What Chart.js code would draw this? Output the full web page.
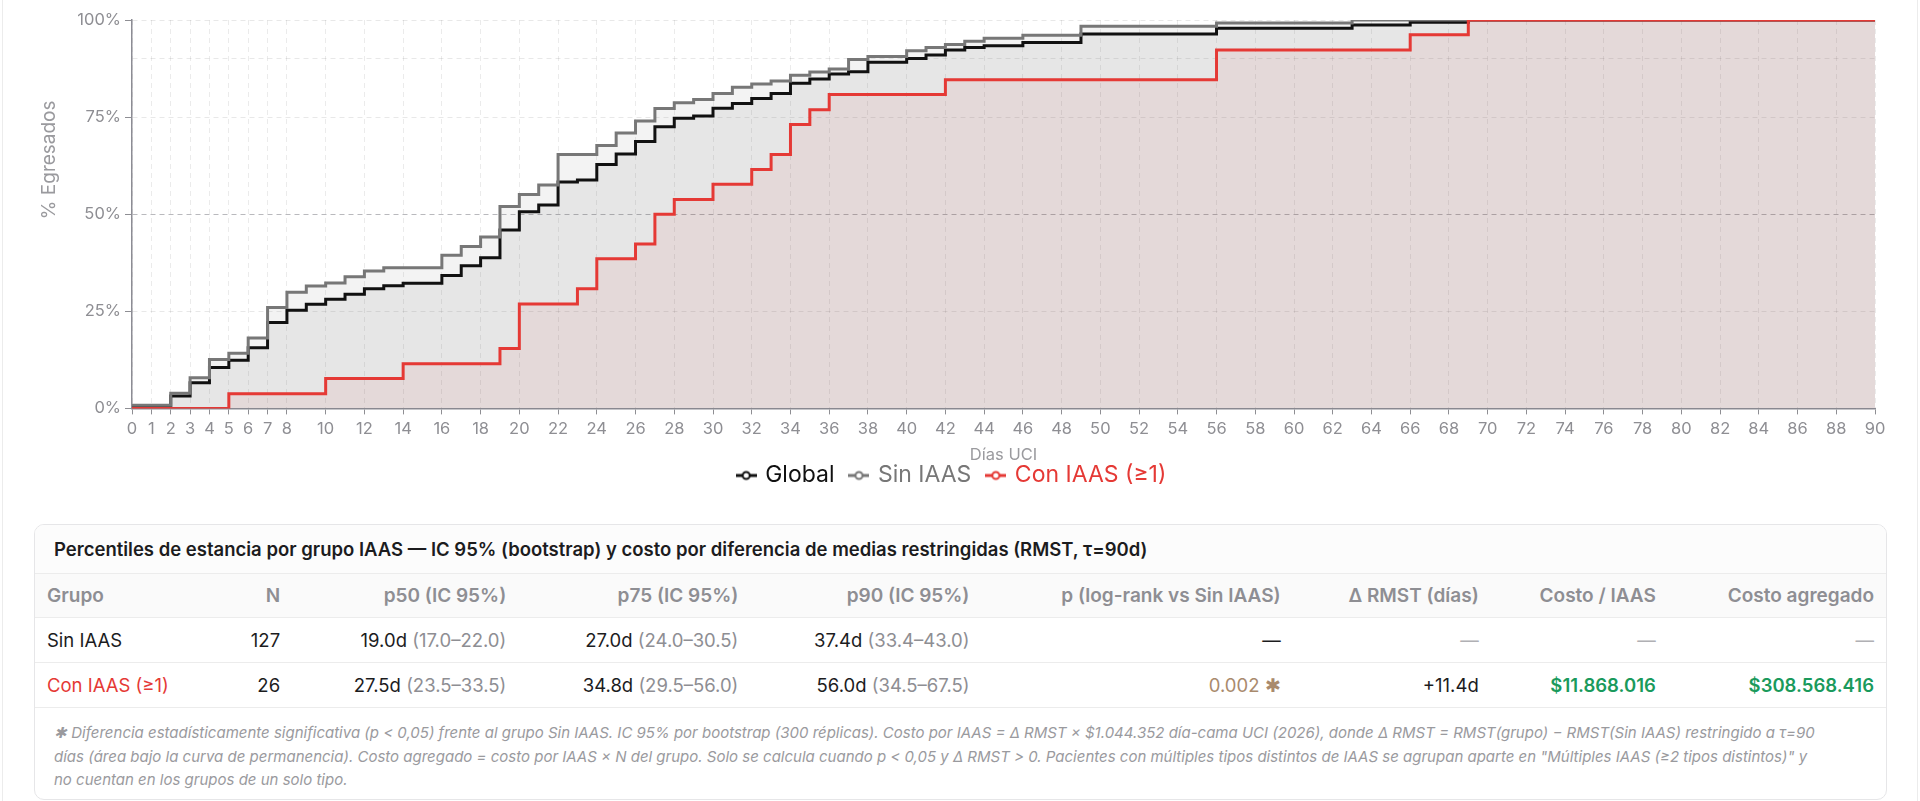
<!DOCTYPE html>
<html lang="es">
<head>
<meta charset="utf-8">
<title>Egreso UCI por grupo IAAS</title>
<script src="https://cdn.jsdelivr.net/npm/chart.js@4.4.1/dist/chart.umd.min.js"></script>
<style>
    html, body { margin: 0; padding: 0; background: #fff; }
    body { position: relative; width: 1920px; height: 801px; overflow: hidden; font-family: Inter, "Noto Sans", sans-serif; color: #1c1c1e; }
    .frame { position: absolute; left: 2px; top: 0; width: 1914px; height: 801px; border-left: 1px solid #ececec; border-right: 1px solid #ececec; }
    .chart-box { position: absolute; left: 0; top: 0; width: 1920px; height: 505px; }
    .card { position: absolute; left: 34px; top: 524px; width: 1851px; height: 274px; border: 1px solid #e6e6e8; border-radius: 10px; overflow: hidden; background: #fff; }
    .card-title { height: 48px; line-height: 48px; padding-left: 19px; font-size: 18.5px; font-weight: 600; background: #fcfcfc; border-bottom: 1px solid #ececec; white-space: nowrap; }
    table { width: 100%; border-collapse: collapse; table-layout: fixed; }
    th, td { padding: 0 12px; text-align: right; white-space: nowrap; }
    th:first-child, td:first-child { text-align: left; }
    thead th { height: 43px; font-size: 19px; font-weight: 600; color: #8e8e93; background: #fafafa; border-bottom: 1px solid #ececec; }
    tbody td { height: 44px; font-size: 18.5px; border-bottom: 1px solid #ececec; }
    .ci { color: #8e8e93; }
    .red { color: #e53935; }
    .dash { color: #b0b0b4; }
    .pval { color: #a98a6d; }
    .money { color: #1a9a5c; font-weight: 600; }
    .note { padding: 13px 19px 0 19px; font-size: 15px; line-height: 23.5px; font-style: italic; color: #9a9a9e; white-space: nowrap; }
</style>
</head>
<body>
<div class="frame"></div>
<div class="chart-box"><canvas id="egresos"></canvas></div>

<div class="card">
    <div class="card-title">Percentiles de estancia por grupo IAAS — IC 95% (bootstrap) y costo por diferencia de medias restringidas (RMST, τ=90d)</div>
    <table>
        <colgroup>
            <col style="width:165px"><col style="width:92px"><col style="width:226px"><col style="width:232px"><col style="width:231px">
            <col style="width:311px"><col style="width:198px"><col style="width:177px"><col style="width:218px">
        </colgroup>
        <thead>
            <tr><th>Grupo</th><th>N</th><th>p50 (IC 95%)</th><th>p75 (IC 95%)</th><th>p90 (IC 95%)</th><th>p (log-rank vs Sin IAAS)</th><th>Δ RMST (días)</th><th>Costo / IAAS</th><th>Costo agregado</th></tr>
        </thead>
        <tbody>
            <tr><td>Sin IAAS</td><td>127</td><td>19.0d <span class="ci">(17.0–22.0)</span></td><td>27.0d <span class="ci">(24.0–30.5)</span></td><td>37.4d <span class="ci">(33.4–43.0)</span></td><td>—</td><td class="dash">—</td><td class="dash">—</td><td class="dash">—</td></tr>
            <tr><td class="red">Con IAAS (≥1)</td><td>26</td><td>27.5d <span class="ci">(23.5–33.5)</span></td><td>34.8d <span class="ci">(29.5–56.0)</span></td><td>56.0d <span class="ci">(34.5–67.5)</span></td><td class="pval">0.002 ✱</td><td>+11.4d</td><td class="money">$11.868.016</td><td class="money">$308.568.416</td></tr>
        </tbody>
    </table>
    <div class="note">✱ Diferencia estadísticamente significativa (p &lt; 0,05) frente al grupo Sin IAAS. IC 95% por bootstrap (300 réplicas). Costo por IAAS = Δ RMST × $1.044.352 día-cama UCI (2026), donde Δ RMST = RMST(grupo) − RMST(Sin IAAS) restringido a τ=90<br>días (área bajo la curva de permanencia). Costo agregado = costo por IAAS × N del grupo. Solo se calcula cuando p &lt; 0,05 y Δ RMST &gt; 0. Pacientes con múltiples tipos distintos de IAAS se agrupan aparte en "Múltiples IAAS (≥2 tipos distintos)" y<br>no cuentan en los grupos de un solo tipo.</div>
</div>

<script>
// Cumulative % discharged by ICU day
const globalDays = [0, 2, 3, 4, 5, 6, 7, 8, 9, 10, 11, 12, 13, 14, 16, 17, 18, 19, 20, 21, 22, 23, 24, 25, 26, 27, 28, 29, 30, 31, 32, 33, 34, 35, 36, 37, 38, 40, 41, 42, 43, 44, 46, 49, 56, 63, 66, 69];
const globalPct = [0.7, 3.2, 6.6, 10.5, 12.4, 15.6, 22.1, 25.3, 26.8, 28.1, 29.4, 30.8, 31.6, 32.2, 34.2, 36.7, 38.8, 45.9, 50.6, 52.4, 58.3, 58.8, 62.8, 65.5, 68.7, 72.5, 74.7, 75.3, 77.3, 78.5, 79.8, 81.1, 83.7, 84.8, 86.1, 86.7, 89.1, 90.1, 91.0, 92.3, 92.9, 93.4, 94.2, 96.4, 97.9, 98.7, 99.4, 100];

const sinDays = [0, 2, 3, 4, 5, 6, 7, 8, 9, 10, 11, 12, 13, 16, 17, 18, 19, 20, 21, 22, 24, 25, 26, 27, 28, 29, 30, 31, 32, 33, 34, 35, 36, 37, 38, 40, 41, 42, 43, 44, 46, 49, 56, 63];
const sinPct = [0.8, 3.9, 7.9, 12.6, 14.2, 18.1, 26.0, 29.9, 31.5, 32.3, 33.9, 35.4, 36.2, 39.4, 41.7, 44.1, 52.0, 55.1, 57.5, 65.4, 67.7, 70.9, 74.0, 77.2, 78.7, 79.5, 81.1, 82.7, 83.5, 84.3, 85.8, 86.6, 87.4, 89.8, 90.6, 92.1, 92.9, 93.7, 94.5, 95.3, 96.1, 98.4, 99.2, 100];

const conDays = [0, 5, 10, 14, 19, 20, 23, 24, 26, 27, 28, 30, 32, 33, 34, 35, 36, 42, 56, 66, 69];
const conPct = [0, 3.8, 7.7, 11.5, 15.4, 26.9, 30.8, 38.5, 42.3, 50.0, 53.8, 57.7, 61.5, 65.4, 73.1, 76.9, 80.8, 84.6, 92.3, 96.2, 100];

const seriesNames = ["Global", "Sin IAAS", "Con IAAS (≥1)"];
const xTicks = [0, 1, 2, 3, 4, 5, 6, 7, 8, 10, 12, 14, 16, 18, 20, 22, 24, 26, 28, 30, 32, 34, 36, 38, 40, 42, 44, 46, 48, 50, 52, 54, 56, 58, 60, 62, 64, 66, 68, 70, 72, 74, 76, 78, 80, 82, 84, 86, 88, 90];
const yTicks = [0, 25, 50, 75, 90, 100];
const tau = 90;

const FONT = "Inter, 'Noto Sans', sans-serif";

function toPoints(days, pct) {
    const pts = days.map((d, i) => ({ x: d, y: pct[i] }));
    // hold the last value out to tau
    pts.push({ x: tau, y: pct[pct.length - 1] });
    return pts;
}

function legendIcon(color) {
    const c = document.createElement("canvas");
    c.width = 21;
    c.height = 12;
    const g = c.getContext("2d");
    g.strokeStyle = color;
    g.lineWidth = 3;
    g.beginPath(); g.moveTo(0, 6); g.lineTo(21, 6); g.stroke();
    g.fillStyle = "#fff";
    g.lineWidth = 2;
    g.beginPath(); g.arc(10.5, 6, 3.5, 0, Math.PI * 2); g.fill(); g.stroke();
    return c;
}

const lineColors = ["#111111", "#777777", "#e53935"];
const fillColors = ["rgba(0,0,0,0.058)", "rgba(120,120,120,0.09)", "rgba(200,40,40,0.07)"];
const icons = lineColors.map(legendIcon);

// y-axis title sits above centre in the original, so draw it ourselves
const yTitle = {
    id: "yTitle",
    afterDraw(chart) {
        const a = chart.chartArea;
        const ctx = chart.ctx;
        ctx.save();
        ctx.translate(a.left - 83, a.top + (a.bottom - a.top) * 0.36);
        ctx.rotate(-Math.PI / 2);
        ctx.font = "19px " + FONT;
        ctx.fillStyle = "#9a9a9e";
        ctx.textAlign = "center";
        ctx.textBaseline = "middle";
        ctx.fillText("% Egresados", 0, 0);
        ctx.restore();
    }
};

const chart = new Chart("egresos", {
    type: "line",
    data: {
        datasets: [
            { label: seriesNames[0], data: toPoints(globalDays, globalPct), order: 2 },
            { label: seriesNames[1], data: toPoints(sinDays, sinPct), order: 1 },
            { label: seriesNames[2], data: toPoints(conDays, conPct), order: 0 },
        ].map((ds, i) => Object.assign(ds, {
            stepped: true,
            borderColor: lineColors[i],
            backgroundColor: fillColors[i],
            borderWidth: 3,
            pointRadius: 0,
            fill: "origin",
        })),
    },
    options: {
        responsive: true,
        maintainAspectRatio: false,
        animation: false,
        layout: { padding: { top: 20, right: 45, bottom: 8, left: 30 } },
        scales: {
            x: {
                type: "linear",
                min: 0,
                max: tau,
                afterBuildTicks: s => { s.ticks = xTicks.map(v => ({ value: v })); },
                ticks: { autoSkip: false, maxRotation: 0, padding: 5, color: "#8e8e93", font: { family: FONT, size: 16.5 } },
                grid: { color: "rgba(0,0,0,0.08)", tickColor: "#8e8e93", tickLength: 6, tickBorderDash: [] },
                border: { display: true, color: "#8c8c94", width: 1.5, dash: [5, 4] },
                title: { display: true, text: "Días UCI", color: "#9a9a9e", font: { family: FONT, size: 16.5 }, padding: { top: 1, bottom: -18 } },
            },
            y: {
                min: 0,
                max: 100,
                afterBuildTicks: s => { s.ticks = yTicks.map(v => ({ value: v })); },
                afterFit: s => { s.width = 102; },
                ticks: {
                    padding: 4,
                    color: "#8e8e93",
                    font: { family: FONT, size: 16.5 },
                    callback: v => (v === 90 ? "" : v + "%"),
                },
                grid: {
                    color: c => (c.tick && c.tick.value === 50 ? "#b9b9bd" : "rgba(0,0,0,0.09)"),
                    tickColor: c => (c.tick && c.tick.value === 90 ? "rgba(0,0,0,0)" : "#8e8e93"),
                    tickLength: 7,
                    tickBorderDash: [],
                },
                border: { display: true, color: "#8c8c94", width: 1.5, dash: [5, 4] },
            },
        },
        plugins: {
            filler: { drawTime: "beforeDatasetsDraw" },
            tooltip: { enabled: false },
            legend: {
                position: "bottom",
                labels: {
                    usePointStyle: true,
                    pointStyleWidth: 15,
                    padding: 17,
                    font: { family: FONT, size: 23 },
                    generateLabels: ch => ch.data.datasets.map((ds, i) => ({
                        text: ds.label,
                        fontColor: lineColors[i],
                        fillStyle: lineColors[i],
                        strokeStyle: lineColors[i],
                        lineWidth: 0,
                        pointStyle: icons[i],
                        hidden: !ch.isDatasetVisible(i),
                        datasetIndex: i,
                    })),
                },
            },
        },
    },
    plugins: [yTitle],
});
</script>
</body>
</html>
